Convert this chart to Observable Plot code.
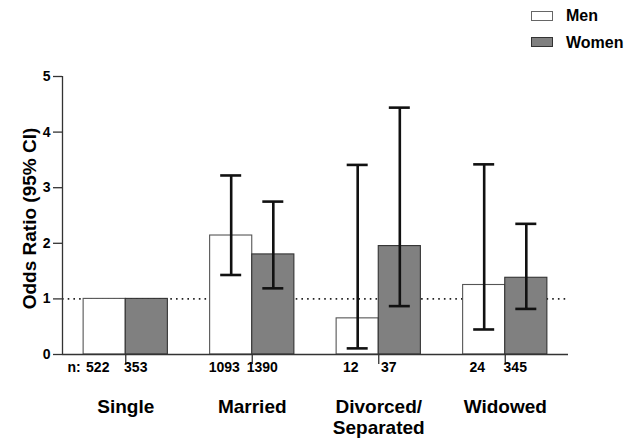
<!DOCTYPE html>
<html>
<head>
<meta charset="utf-8">
<script src="https://cdn.jsdelivr.net/npm/d3@7"></script>
<script src="https://cdn.jsdelivr.net/npm/@observablehq/plot@0.6"></script>
<style>
  html, body { margin: 0; padding: 0; background: white; }
  #wrap { position: relative; width: 640px; height: 440px; font-family: "Liberation Sans", Arial, sans-serif; }
  .leg { position: absolute; font-size: 16px; font-weight: bold; color: #000; line-height: 16px; }
  .sw { position: absolute; width: 20px; height: 8px; }
</style>
</head>
<body>
<div id="wrap">
  <div class="sw" style="left:531px; top:11px; background:#fff; border:1px solid #666;"></div>
  <div class="leg" style="left:566px; top:8px;">Men</div>
  <div class="sw" style="left:531px; top:37px; background:#808080; border:1px solid #333;"></div>
  <div class="leg" style="left:566px; top:35px;">Women</div>
</div>
<script>
// ---- data ----
const groups   = ["Single", "Married", "Divorced/\nSeparated", "Widowed"];
const menOR    = [1.00, 2.14, 0.65, 1.25];
const menLo    = [null, 1.43, 0.11, 0.45];
const menHi    = [null, 3.22, 3.41, 3.42];
const womenOR  = [1.00, 1.80, 1.95, 1.38];
const womenLo  = [null, 1.19, 0.87, 0.82];
const womenHi  = [null, 2.75, 4.44, 2.35];
const menN     = [522, 1093, 12, 24];
const womenN   = [353, 1390, 37, 345];
const yTicks   = [0, 1, 2, 3, 4, 5];

// ---- table ----
const BW = 0.333;   // bar width in group units
const CAP = 0.083;  // half cap width
const rows = [];
groups.forEach((g, i) => {
  rows.push({i, sex: "Men", or: menOR[i], lo: menLo[i], hi: menHi[i], n: menN[i]});
  rows.push({i, sex: "Women", or: womenOR[i], lo: womenLo[i], hi: womenHi[i], n: womenN[i]});
});
const x1 = d => d.i + 0.5 - (d.sex === "Men" ? BW : 0);
const x2 = d => d.i + 0.5 + (d.sex === "Men" ? 0 : BW);
const cx = d => d.i + 0.5 + (d.sex === "Men" ? -BW / 2 : BW / 2);
const ci = rows.filter(d => d.lo != null);

const chart = Plot.plot({
  width: 640,
  height: 440,
  marginLeft: 62,
  marginRight: 72,
  marginTop: 76,
  marginBottom: 86,
  style: {fontFamily: '"Liberation Sans", Arial, sans-serif', color: "#000", background: "transparent", overflow: "visible"},
  x: {domain: [0, groups.length]},
  y: {domain: [0, 5]},
  marks: [
    Plot.ruleY([1], {stroke: "#222", strokeWidth: 1.6, strokeDasharray: "1.6,4.1"}),
    Plot.rectY(rows, {
      x1, x2, y1: 0, y2: "or",
      fill: d => d.sex === "Men" ? "#ffffff" : "#808080",
      stroke: d => d.sex === "Men" ? "#555" : "#333",
      strokeWidth: 1.1
    }),
    Plot.ruleX(ci, {x: cx, y1: "lo", y2: "hi", stroke: "#111", strokeWidth: 2.6}),
    Plot.ruleY(ci, {y: "lo", x1: d => cx(d) - CAP, x2: d => cx(d) + CAP, stroke: "#111", strokeWidth: 2.6}),
    Plot.ruleY(ci, {y: "hi", x1: d => cx(d) - CAP, x2: d => cx(d) + CAP, stroke: "#111", strokeWidth: 2.6}),
    Plot.ruleX([0], {stroke: "#333", strokeWidth: 1.3}),
    Plot.ruleY([0], {stroke: "#333", strokeWidth: 1.3}),
    Plot.axisX({ticks: groups.map((g, i) => i + 0.5), tickSize: 10, tickFormat: () => "", stroke: "#333", strokeWidth: 1.3, label: null}),
    Plot.axisY({ticks: yTicks, tickSize: 9, tickPadding: 3, tickFormat: d3.format("d"), fontSize: 14, fontWeight: "bold", stroke: "#333", strokeWidth: 1.3, label: null}),
    Plot.text(["Odds Ratio (95% CI)"], {frameAnchor: "left", textAnchor: "middle", rotate: -90, dx: -33, dy: 3, fontSize: 19, fontWeight: "bold"}),
    Plot.text(["n:"], {frameAnchor: "bottom-left", dx: 5, dy: 17, textAnchor: "start", fontSize: 14, fontWeight: "bold"}),
    Plot.text(rows.filter(d => d.sex === "Men"), {x: d => d.i + 0.5, frameAnchor: "bottom", dx: -28, dy: 17, text: d => String(d.n), fontSize: 14, fontWeight: "bold"}),
    Plot.text(rows.filter(d => d.sex === "Women"), {x: d => d.i + 0.5, frameAnchor: "bottom", dx: 10, dy: 17, text: d => String(d.n), fontSize: 14, fontWeight: "bold"}),
    Plot.text(groups, {x: (d, i) => i + 0.5, frameAnchor: "bottom", dy: 44, lineAnchor: "top", lineHeight: 1.1, text: d => d, fontSize: 19, fontWeight: "bold"})
  ]
});
chart.style.position = "absolute";
chart.style.left = "0";
chart.style.top = "0";
const wrap = document.getElementById("wrap");
wrap.insertBefore(chart, wrap.firstChild);
</script>
</body>
</html>
